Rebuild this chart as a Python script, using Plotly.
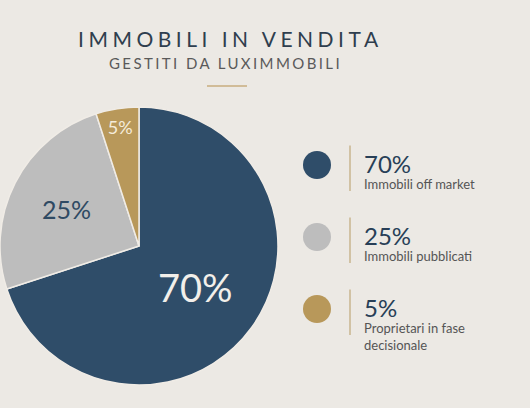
import plotly.graph_objects as go

categories = ["Immobili off market", "Immobili pubblicati", "Proprietari in fase<br>decisionale"]
values = [70, 25, 5]
pct_labels = ["70%", "25%", "5%"]
colors = ["#2f4d69", "#bdbdbd", "#b8985a"]
inside_text_colors = ["#f2efea", "#2f4a63", "#f5ecda"]
inside_text_sizes = [38, 25, 18]

BG = "#ece9e4"
FONT = "Lato"

fig = go.Figure()

fig.add_trace(go.Pie(
    values=values,
    labels=pct_labels,
    text=pct_labels,
    textinfo="text",
    sort=False,
    direction="clockwise",
    rotation=0,
    marker=dict(colors=colors, line=dict(color="#f0ece6", width=1.5)),
    insidetextfont=dict(family=FONT, color=inside_text_colors, size=inside_text_sizes),
    insidetextorientation="horizontal",
    textposition="inside",
    domain=dict(x=[0, 0.5245], y=[0.0465, 0.7475]),
    hoverinfo="skip",
    showlegend=False,
))

idx = list(range(len(categories)))
fig.add_trace(go.Scatter(
    x=[0] * len(idx), y=idx, mode="markers",
    marker=dict(size=28, color=colors, line=dict(width=0)),
    hoverinfo="skip", showlegend=False,
))

shapes = []
annotations = []
for i in idx:
    shapes.append(dict(type="line", xref="x", yref="y", x0=33, x1=33,
                       y0=i - 0.27, y1=i + 0.36,
                       line=dict(color="#c9b58f", width=1.5)))
    annotations.append(dict(x=45, y=i, xref="x", yref="y", text=pct_labels[i],
                            showarrow=False, xanchor="left", yanchor="middle", yshift=2,
                            font=dict(family=FONT, size=24, color="#283f57")))
    annotations.append(dict(x=45, y=i, xref="x", yref="y", text=categories[i],
                            showarrow=False, xanchor="left", yanchor="top", yshift=-9,
                            align="left",
                            font=dict(family=FONT, size=13, color="#555555")))

annotations.append(dict(x=230 / 530, y=1 - 38.5 / 408, xref="paper", yref="paper",
                        text='<span style="letter-spacing:4.5px">IMMOBILI IN VENDITA</span>',
                        showarrow=False, xanchor="center", yanchor="middle",
                        font=dict(family=FONT, size=21, color="#2f3e4e")))
annotations.append(dict(x=225 / 530, y=1 - 62.5 / 408, xref="paper", yref="paper",
                        text='<span style="letter-spacing:2.4px">GESTITI DA LUXIMMOBILI</span>',
                        showarrow=False, xanchor="center", yanchor="middle",
                        font=dict(family=FONT, size=15, color="#5a5a5a")))
shapes.append(dict(type="line", xref="paper", yref="paper",
                   x0=207 / 530, x1=247 / 530, y0=1 - 86 / 408, y1=1 - 86 / 408,
                   line=dict(color="#c9ad7f", width=1.5)))

fig.update_layout(
    width=530, height=408, autosize=False,
    margin=dict(l=0, r=0, t=0, b=0),
    paper_bgcolor=BG, plot_bgcolor="rgba(0,0,0,0)",
    xaxis=dict(range=[-317, 213], domain=[0, 1], visible=False, fixedrange=True),
    yaxis=dict(range=[3.375, -2.2917], domain=[0, 1], visible=False, fixedrange=True),
    shapes=shapes, annotations=annotations,
    font=dict(family=FONT),
)

fig.write_html(
    "out.html",
    config={"displayModeBar": False},
    post_script="document.body.style.margin='0';document.body.style.overflow='hidden';"
                "document.body.style.background='" + BG + "';",
)
